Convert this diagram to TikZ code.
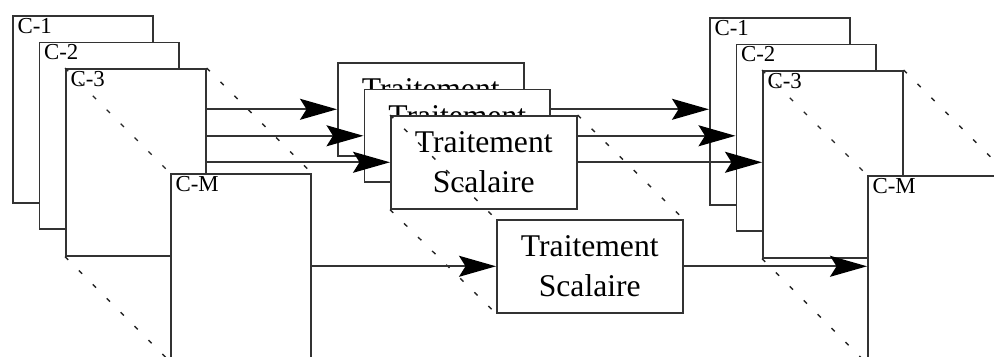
\documentclass[tikz,border=0pt]{standalone}
\usepackage{fontspec}
\setmainfont{Liberation Serif}
\usetikzlibrary{arrows.meta,positioning}

\tikzset{
  frame/.style={draw=black!80, line width=0.9pt, fill=white, inner sep=0pt,
    minimum width=2.8cm, minimum height=3.74cm, anchor=north west},
  tag/.style={anchor=north west, inner xsep=3pt, inner ysep=1.5pt,
    font=\fontsize{13}{15}\selectfont},
  proc/.style={draw=black!80, line width=0.9pt, fill=white, inner sep=0pt,
    minimum width=3.72cm, minimum height=1.86cm, anchor=north west,
    align=center, font=\fontsize{18}{22.5}\selectfont},
  persp/.style={black!85, line width=0.8pt, dash pattern=on 2.6pt off 8.6pt},
  flow/.style={-{Stealth[length=0.74cm,width=0.42cm,inset=0.13cm,black]},
    black!80, line width=0.9pt}
}

\begin{document}
\begin{tikzpicture}[x=0.02cm, y=-0.02cm]
  \useasboundingbox (0,0) rectangle (994,356);
  \clip (0,0) rectangle (994,356);

  % input channels
  \foreach \i/\t/\px/\py in {1/C-1/12/15, 2/C-2/38.5/41.5, 3/C-3/65/68, m/C-M/170/173}{
    \node[frame] (cl\i) at (\px,\py) {};
    \node[tag] (tl\i) at (cl\i.north west) {\t};
  }
  \draw[persp] (cl3.north west) -- (clm.north west);
  \draw[persp] (cl3.north east) -- (clm.north east);
  \draw[persp] (cl3.south west) -- (clm.south west);

  % output channels
  \foreach \i/\t/\px/\py in {1/C-1/709/17, 2/C-2/735.5/43.5, 3/C-3/762/70, m/C-M/867/175}{
    \node[frame] (cr\i) at (\px,\py) {};
    \node[tag] (tr\i) at (cr\i.north west) {\t};
  }
  \draw[persp] (cr3.north west) -- (crm.north west);
  \draw[persp] (cr3.north east) -- (crm.north east);
  \draw[persp] (cr3.south west) -- (crm.south west);

  % scalar processing
  \node[proc] (ts1) at (337,62) {Traitement\\Scalaire};
  \draw[flow] (cl3.east |- ts1.west) -- (ts1.west);
  \draw[flow] (ts1.east) -- (cr1.west |- ts1.east);
  \node[proc] (ts2) at (363.5,88.5) {Traitement\\Scalaire};
  \draw[flow] (cl3.east |- ts2.west) -- (ts2.west);
  \draw[flow] (ts2.east) -- (cr2.west |- ts2.east);
  \node[proc] (ts3) at (390,115) {Traitement\\Scalaire};
  \draw[flow] (cl3.east |- ts3.west) -- (ts3.west);
  \draw[flow] (ts3.east) -- (cr3.west |- ts3.east);
  \node[proc] (ts4) at (496,219) {Traitement\\Scalaire};
  \draw[persp] (ts3.north west) -- (ts4.north west);
  \draw[persp] (ts3.north east) -- (ts4.north east);
  \draw[persp] (ts3.south west) -- (ts4.south west);
  \draw[flow] (clm.east |- ts4.west) -- (ts4.west);
  \draw[flow] (ts4.east) -- (crm.west |- ts4.east);
\end{tikzpicture}
\end{document}
